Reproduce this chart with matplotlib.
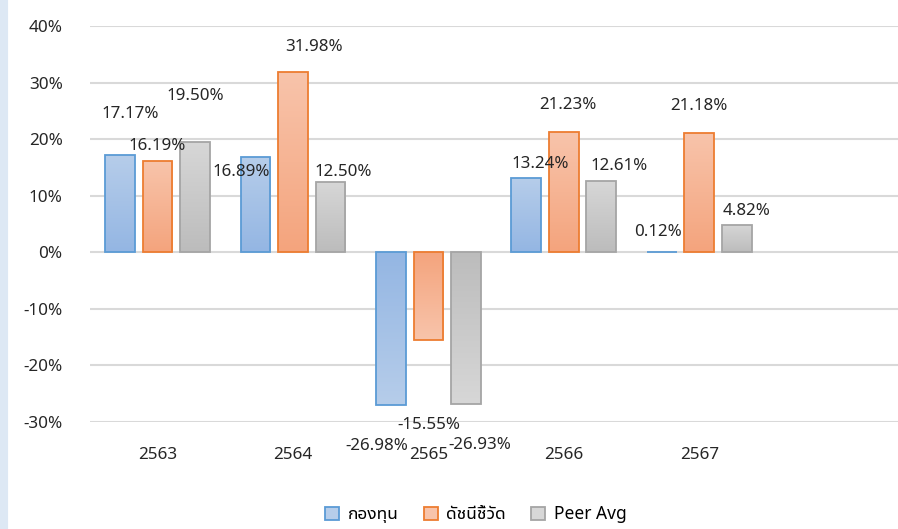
import numpy as np
import matplotlib
matplotlib.use('Agg')
import matplotlib.pyplot as plt
from matplotlib.patches import FancyBboxPatch
from matplotlib.colors import LinearSegmentedColormap

# ข้อมูลผลตอบแทนรายปี (%)
years = ['2563', '2564', '2565', '2566', '2567']
fund = [17.17, 16.89, -26.98, 13.24, 0.12]
benchmark = [16.19, 31.98, -15.55, 21.23, 21.18]
peer = [19.50, 12.50, -26.93, 12.61, 4.82]
series_names = ['กองทุน', 'ดัชนีชี้วัด', 'Peer Avg']
yticks = [-30, -20, -10, 0, 10, 20, 30, 40]

plt.rcParams['font.family'] = ['Noto Sans', 'Noto Sans Thai UI', 'DejaVu Sans']
plt.rcParams['font.weight'] = 'light'

fig = plt.figure(figsize=(8.98, 5.29), dpi=100)
fig.patch.set_facecolor('#dde8f4')
panel = FancyBboxPatch((0.009, -0.1), 1.2, 1.2, boxstyle='round,pad=0,rounding_size=0.035',
                       transform=fig.transFigure, facecolor='white', edgecolor='none', zorder=-1)
fig.patches.append(panel)

ax = fig.add_axes([0.1, 0.203, 0.905, 0.747])
ax.set_facecolor('none')

colors = [('#94b6e3', '#b6cdea', '#5b9bd5'),
          ('#f4a47d', '#f8c4ab', '#ed7d31'),
          ('#bcbcbc', '#d7d7d7', '#a5a5a5')]
x = np.arange(len(years))
width = 0.22
step = 0.277

# ตำแหน่งป้ายข้อมูล (offset เป็น points จากปลายแท่ง)
label_offsets = [
    [(7, 30), (0, 11), (0, 33)],
    [(-10, -11), (15, 18), (9, 7)],
    [(-10, -29.5), (0, -61), (10, -29)],
    [(10, 10), (3, 20), (13, 11)],
    [(-3, 14), (0, 19), (7, 10)],
]

handles = []
for k, vals in enumerate([fund, benchmark, peer]):
    near, far, edge = colors[k]
    cmap = LinearSegmentedColormap.from_list('g%d' % k, [near, far])
    bars = ax.bar(x + (k - 1) * step, vals, width, facecolor=near, edgecolor=edge,
                  linewidth=1.3, zorder=3, label=series_names[k])
    handles.append(bars)
    for i, b in enumerate(bars):
        h = b.get_height()
        x0 = b.get_x()
        grad = np.linspace(0, 1, 100).reshape(-1, 1)
        if h < 0:
            grad = grad[::-1]
        im = ax.imshow(grad, cmap=cmap, aspect='auto', origin='lower',
                       extent=[x0, x0 + b.get_width(), min(0, h), max(0, h)], zorder=3)
        im.set_clip_path(b)
        b.set_facecolor('none')
        b.set_zorder(4)
        dx, dy = label_offsets[i][k]
        ax.annotate(f'{vals[i]:.2f}%', xy=(x0 + b.get_width() / 2, h), xytext=(dx, dy),
                    textcoords='offset points', ha='center', va='center',
                    fontsize=12.2, color='#262626', zorder=5)

ax.set_xlim(-0.5, 5.5)
ax.set_ylim(-30, 40)
ax.set_yticks(yticks)
ax.set_yticklabels([f'{t}%' for t in yticks])
ax.grid(axis='y', color='#d9d9d9', linewidth=1.5, zorder=0)
ax.set_xticks(x)
ax.set_xticklabels(years)
ax.tick_params(length=0, labelsize=12.3, labelcolor='#262626')
ax.tick_params(axis='y', pad=19.5)
ax.tick_params(axis='x', pad=18)
for s in ax.spines.values():
    s.set_visible(False)

# legend ใช้สีกลางของแต่ละชุดข้อมูล
leg = ax.legend(handles=handles, loc='upper center', bbox_to_anchor=(0.475, -0.172), ncol=3,
                frameon=False, fontsize=12.5, handlelength=0.8, handleheight=0.8,
                columnspacing=1.45, handletextpad=0.5)
for patch, c in zip(leg.get_patches(), colors):
    patch.set_facecolor(c[1])

fig.savefig('out.png', dpi=100, facecolor=fig.get_facecolor())
